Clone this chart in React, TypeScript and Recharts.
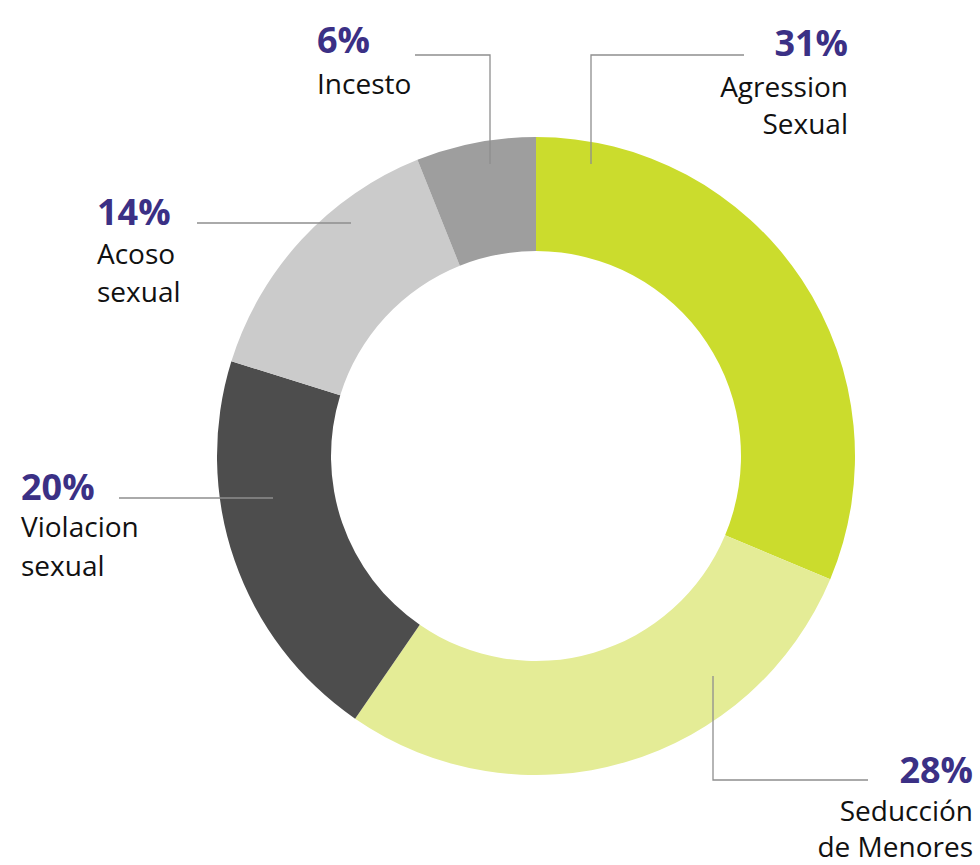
import React from "react";
import { PieChart, Pie, Cell } from "recharts";

const categories: string[][] = [
  ["Agression", "Sexual"],
  ["Seducción", "de Menores"],
  ["Violacion", "sexual"],
  ["Acoso", "sexual"],
  ["Incesto"],
];
const values: number[] = [31, 28, 20, 14, 6];
const colors: string[] = ["#CBDC2D", "#E4EC96", "#4D4D4D", "#CBCBCB", "#9E9E9E"];

const data = categories.map((c, i) => ({ name: c.join(" "), value: values[i], lines: c }));

// label layout, offsets relative to pie centre
const LABEL_LAYOUT = [
  { line: [[55, -292], [55, -401], [208, -401]], tx: 312, anchor: "end", py: -400, ny: [-359, -322] },
  { line: [[177, 220], [177, 324], [332, 324]], tx: 437, anchor: "end", py: 327, ny: [365, 401] },
  { line: [[-263, 42], [-417, 42]], tx: -515, anchor: "start", py: 44, ny: [81, 120] },
  { line: [[-185, -233], [-339, -233]], tx: -439, anchor: "start", py: -231, ny: [-192, -154] },
  { line: [[-46, -292], [-46, -401], [-121, -401]], tx: -219, anchor: "start", py: -403, ny: [-362] },
];

const FONT = "'Open Sans', 'Noto Sans', sans-serif";

const renderLabel = (props: any) => {
  const { cx, cy, index } = props;
  const L = LABEL_LAYOUT[index];
  if (!L) return null;
  const pts = L.line.map((p) => `${cx + p[0]},${cy + p[1]}`).join(" ");
  return (
    <g key={`lbl-${index}`}>
      <polyline points={pts} fill="none" stroke="#8E8E8E" strokeWidth={1.3} />
      <text
        x={cx + L.tx}
        y={cy + L.py}
        textAnchor={L.anchor as any}
        fontFamily={FONT}
        fontWeight={700}
        fontSize={36}
        fill="#3B3085"
      >
        {`${values[index]}%`}
      </text>
      {categories[index].map((ln, j) => (
        <text
          key={j}
          x={cx + L.tx}
          y={cy + L.ny[j]}
          textAnchor={L.anchor as any}
          fontFamily={FONT}
          fontWeight={400}
          fontSize={28}
          fill="#111111"
        >
          {ln}
        </text>
      ))}
    </g>
  );
};

export default function App() {
  return (
    <div style={{ position: "absolute", left: 0, top: 0, width: 980, height: 865, background: "#fff" }}>
      <PieChart width={980} height={865} margin={{ top: 0, right: 0, bottom: 0, left: 0 }}>
        <Pie
          data={data}
          dataKey="value"
          nameKey="name"
          cx={536}
          cy={456}
          innerRadius={205}
          outerRadius={319}
          startAngle={90}
          endAngle={-270}
          stroke="none"
          isAnimationActive={false}
          label={renderLabel}
          labelLine={false}
        >
          {data.map((d, i) => (
            <Cell key={d.name} fill={colors[i]} />
          ))}
        </Pie>
      </PieChart>
    </div>
  );
}
